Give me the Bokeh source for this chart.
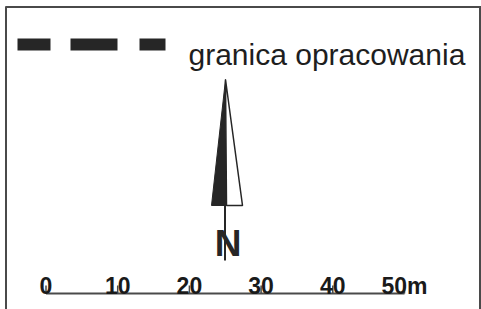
from bokeh.plotting import figure
from bokeh.models import Range1d
from bokeh.core.properties import value
from bokeh.embed import file_html
from bokeh.resources import INLINE

# ---- content ----
legend_label = ["granica opracowania"]
dash_starts = [17, 70, 139]
dash_ends = [50, 117, 165]
scale_values = [0, 10, 20, 30, 40, 50]
scale_labels = ["0", "10", "20", "30", "40", "50m"]
north_label = ["N"]

# pixel mapping for the scale bar (metres -> page px)
X0, PX_PER_M = 45.5, 7.17
def sx(v):
    return X0 + v * PX_PER_M

INK = "#262626"
FRAME = "#4a4a4a"

p = figure(width=481, height=309, output_backend="svg", toolbar_location=None,
           x_range=Range1d(0, 481), y_range=Range1d(309, 0),
           min_border=0, outline_line_color=None, background_fill_color="white",
           border_fill_color="white")
p.axis.visible = False
p.grid.visible = False

# frame (top and side borders)
p.segment(x0=[5, 5.5, 479.5], y0=[6.5, 6, 6], x1=[480.5, 5.5, 479.5], y1=[6.5, 309, 309],
          line_color=FRAME, line_width=2)

# legend: dashed boundary line
p.quad(left=dash_starts, right=dash_ends, top=[38] * 3, bottom=[50] * 3,
       fill_color=INK, line_color=None)
p.text(x=[188], y=[54], text=legend_label, text_font=value("Liberation Sans"),
       text_font_size="30px", text_color="#1e1e1e", text_baseline="alphabetic",
       text_align="left")

# north arrow
p.patch(x=[225, 211, 226], y=[79, 205, 205], fill_color=INK, line_color=INK, line_width=1)
p.patch(x=[225, 226, 242], y=[79, 205, 205], fill_color="white", line_color=INK, line_width=1.5)
p.segment(x0=[224.5], y0=[205], x1=[224.5], y1=[260], line_color=INK, line_width=2)
p.text(x=[227.5], y=[243], text=north_label, text_font=value("Liberation Sans"),
       text_font_style="bold", text_font_size="37px", text_color=INK,
       text_align="center", text_baseline="alphabetic")

# scale bar
xs = [sx(v) for v in scale_values]
p.segment(x0=[xs[0]], y0=[293], x1=[xs[-1]], y1=[293], line_color=FRAME, line_width=2)
p.segment(x0=xs, y0=[285] * len(xs), x1=xs, y1=[293] * len(xs), line_color=FRAME, line_width=1.5)
p.text(x=xs, y=[285] * len(xs), text=scale_labels, text_font=value("Liberation Sans"),
       text_font_style="bold", text_font_size="23px", text_color="#1a1a1a",
       text_align="center", text_baseline="alphabetic")

open("out.html", "w").write(file_html(p, INLINE))
